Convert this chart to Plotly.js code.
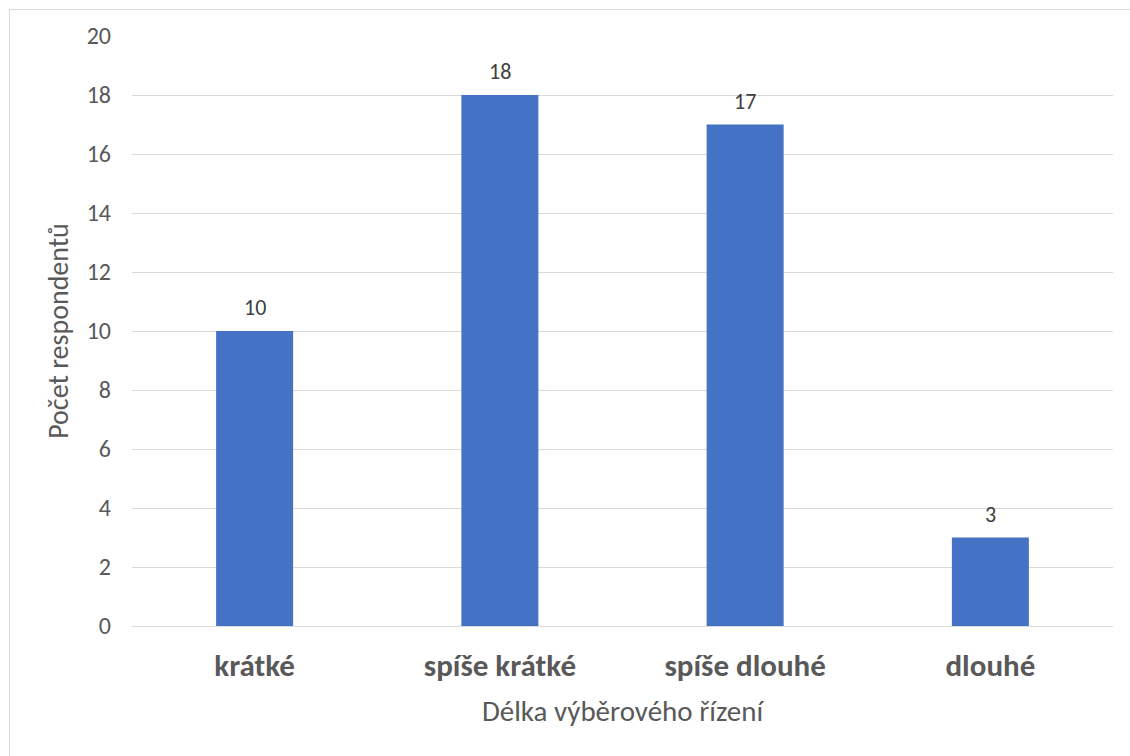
<!DOCTYPE html>
<html><head><meta charset="utf-8">
<script src="https://cdn.plot.ly/plotly-3.0.1.min.js"></script>
<style>
html,body{margin:0;padding:0;background:#fff;overflow:hidden}
#frame{position:absolute;left:9px;top:9px;width:1200px;height:800px;border:1px solid #d9d9d9;box-sizing:border-box}
#chart{position:absolute;left:0;top:0;width:1130px;height:756px}
</style></head>
<body>
<div id="frame"></div>
<div id="chart"></div>
<script>
const categories = ["krátké", "spíše krátké", "spíše dlouhé", "dlouhé"];
const counts = [10, 18, 17, 3];
const yTitle = "Počet respondentů";
const xTitle = "Délka výběrového řízení";

const font = "Carlito, Open Sans, Liberation Sans, sans-serif";
const annotations = categories.map((c, i) => ({
  x: c, y: counts[i], xref: "x", yref: "y",
  text: String(counts[i]), showarrow: false,
  yanchor: "bottom", yshift: 8,
  font: {family: font, size: 22, color: "#404040"}
}));
Plotly.newPlot("chart", [{
  type: "bar",
  x: categories,
  y: counts,
  marker: {color: "#4472C4"},
  hoverinfo: "skip"
}], {
  width: 1130, height: 756,
  margin: {l: 132, r: 17, t: 36, b: 130},
  paper_bgcolor: "rgba(0,0,0,0)",
  plot_bgcolor: "rgba(0,0,0,0)",
  bargap: 0.686,
  showlegend: false,
  annotations: annotations,
  xaxis: {
    tickfont: {family: font, size: 31, color: "#595959", weight: "bold"},
    ticks: "", ticklabelstandoff: 12,
    showline: true, linecolor: "#d9d9d9", linewidth: 1,
    title: {text: xTitle, font: {family: font, size: 29, color: "#595959"}, standoff: 17}
  },
  yaxis: {
    range: [0, 20], dtick: 2, tick0: 0,
    gridcolor: "#d9d9d9", gridwidth: 1,
    zeroline: false,
    tickfont: {family: font, size: 24, color: "#595959"},
    ticks: "", ticklabelstandoff: 20,
    title: {text: yTitle, font: {family: font, size: 28, color: "#595959"}, standoff: 9}
  }
}, {staticPlot: true});
</script>
</body></html>
